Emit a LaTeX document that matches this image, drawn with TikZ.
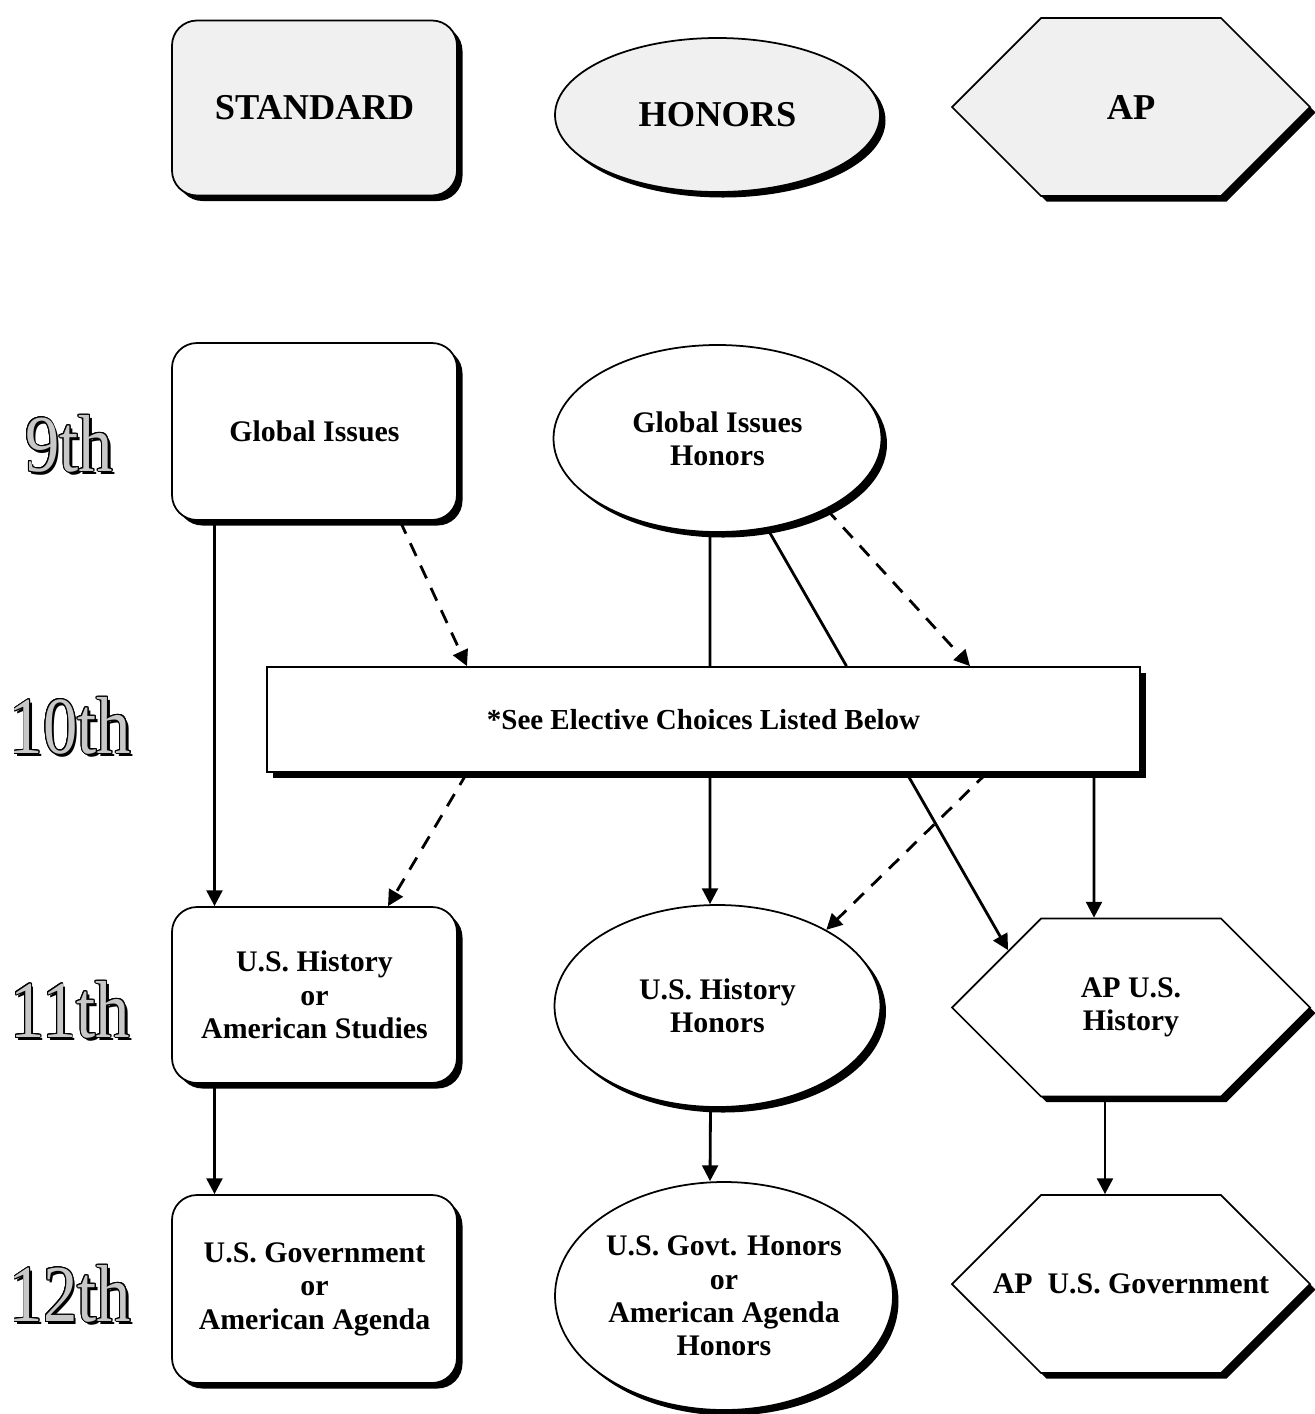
\documentclass[tikz,border=0pt]{standalone}
\usepackage{fontspec}
\setmainfont{Liberation Serif}
\usepackage{graphicx}
\usepackage{contour}
\usetikzlibrary{shapes.geometric,shapes.symbols,shadows,arrows.meta}
\contourlength{0.6pt}
\definecolor{legendgray}{RGB}{240,240,240}
\definecolor{gradegray}{RGB}{200,200,200}
% 学年ラベル（影付きの袋文字）
\newcommand{\gradelabel}[1]{\scalebox{0.85}[1]{\rlap{\hspace{1.8pt}\raisebox{-1.8pt}{#1}}\textcolor{gradegray}{\contour{black}{#1}}}}

\begin{document}
\begin{tikzpicture}[
    blackshadow/.style={drop shadow={fill=black, opacity=1, shadow xshift=0.11cm, shadow yshift=-0.11cm}},
    stdbox/.style={rectangle, rounded corners=0.5cm, draw, line width=1pt, fill=white, blackshadow, minimum width=5.7cm, inner sep=0pt, align=center, font=\fontsize{17}{19}\selectfont\bfseries},
    honell/.style={ellipse, draw, line width=1pt, fill=white, blackshadow, inner sep=0pt, align=center, font=\fontsize{17}{19}\selectfont\bfseries},
    aphex/.style={signal, signal to=east and west, signal pointer angle=90, draw, line width=1pt, fill=white, blackshadow, minimum width=7.16cm, minimum height=3.56cm, inner sep=0pt, align=center, font=\fontsize{17}{19}\selectfont\bfseries},
    legendshape/.style={fill=legendgray, font=\fontsize{20.7}{23}\selectfont\bfseries},
    grade/.style={font=\fontsize{46}{46}\selectfont},
    arr/.style={-{Triangle[length=9pt,width=9pt]}, line width=1.6pt},
    dasharr/.style={arr, dash pattern=on 8pt off 6pt},
    ln/.style={line width=1.6pt}
  ]
    \useasboundingbox (0,0) rectangle (26.3,-28.28);

    % 凡例
    \node[stdbox, legendshape, minimum height=3.5cm] (stdlegend) at (6.29,-2.16) {STANDARD};
    \node[honell, legendshape, minimum width=6.5cm, minimum height=3.08cm] (honlegend) at (14.35,-2.3) {HONORS};
    \node[aphex, legendshape] (aplegend) at (22.62,-2.14) {AP};

    % 学年
    \node[grade] (g9) at (1.38,-8.9) {\gradelabel{9th}};
    \node[grade] (g10) at (1.4,-14.54) {\gradelabel{10th}};
    \node[grade] (g11) at (1.4,-20.22) {\gradelabel{11th}};
    \node[grade] (g12) at (1.4,-25.9) {\gradelabel{12th}};

    % 科目
    \node[stdbox, minimum height=3.54cm] (gi) at (6.29,-8.63) {Global Issues};
    \node[honell, minimum width=6.56cm, minimum height=3.74cm] (gih) at (14.35,-8.77) {Global Issues\\Honors};
    \node[rectangle, draw, line width=1pt, fill=white, blackshadow, minimum width=17.46cm, minimum height=2.1cm, font=\fontsize{16.5}{19}\selectfont\bfseries] (elec) at (14.07,-14.39) {*See Elective Choices Listed Below};
    \node[stdbox, minimum height=3.52cm] (ush) at (6.29,-19.9) {U.S. History\\or\\American Studies};
    \node[honell, minimum width=6.52cm, minimum height=4.04cm] (ushh) at (14.35,-20.12) {U.S. History\\Honors};
    \node[aphex] (apush) at (22.62,-20.15) {AP U.S.\\History};
    \node[stdbox, minimum height=3.76cm] (usg) at (6.29,-25.78) {U.S. Government\\or\\American Agenda};
    \node[honell, minimum width=6.76cm, minimum height=4.56cm] (usgh) at (14.48,-25.92) {U.S. Govt. Honors\\or\\American Agenda\\Honors};
    \node[aphex] (apg) at (22.62,-25.68) {\makebox[0pt]{AP\ \ U.S. Government}};

    % 矢印
    \draw[arr] ([xshift=-2cm]gi.south) -- ([xshift=-2cm]ush.north);
    \draw[dasharr] ([xshift=1.71cm]gi.south) -- ([xshift=-4.73cm]elec.north);
    \draw[ln] ([xshift=-0.15cm]gih.south) -- ([xshift=0.13cm]elec.north);
    \draw[ln] (gih.-61) -- ([xshift=2.86cm]elec.north);
    \draw[dasharr] (gih.-33) -- ([xshift=5.33cm]elec.north);
    \draw[dasharr] ([xshift=-4.73cm]elec.south) -- ([xshift=1.47cm]ush.north);
    \draw[arr] ([xshift=0.13cm]elec.south) -- ([xshift=-0.15cm]ushh.north);
    \draw[arr] ([xshift=4.06cm]elec.south) -- (apush.155);
    \draw[dasharr] ([xshift=5.67cm]elec.south) -- (ushh.35);
    \draw[arr] ([xshift=7.81cm]elec.south) -- ([xshift=-0.74cm]apush.north);
    \draw[arr] ([xshift=-2cm]ush.south) -- ([xshift=-2cm]usg.north);
    \draw[arr] ([xshift=-0.14cm]ushh.south) -- ([xshift=-0.28cm]usgh.north);
    \draw[arr] ([xshift=-0.52cm]apush.south) -- ([xshift=-0.52cm]apg.north);
  \end{tikzpicture}
\end{document}
